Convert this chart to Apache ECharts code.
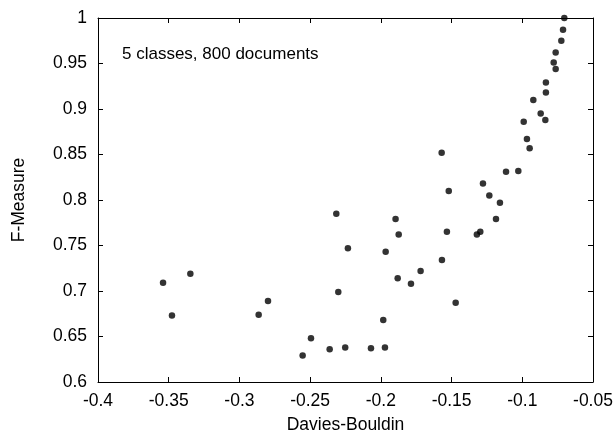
<!DOCTYPE html>
<html>
<head>
<meta charset="utf-8">
<script src="https://cdn.jsdelivr.net/npm/echarts@6/dist/echarts.min.js"></script>
<style>
  html, body { margin: 0; padding: 0; background: #fff; }
  #chart { width: 613px; height: 435px; }
</style>
</head>
<body>
<div id="chart"></div>
<script>
// Davies-Bouldin index vs. F-Measure for each clustering run
const daviesBouldin = [
  -0.0703, -0.0712, -0.0724, -0.0764, -0.0778, -0.0764, -0.0833, -0.0833,
  -0.0922, -0.0870, -0.0837, -0.0990, -0.0967, -0.0948, -0.1570, -0.1115,
  -0.1028, -0.1520, -0.1278, -0.1233, -0.1158, -0.1186, -0.1297, -0.1321,
  -0.1533, -0.1568, -0.1471, -0.1719, -0.1787, -0.1881, -0.1874, -0.1896,
  -0.1966, -0.1983, -0.1971, -0.2070, -0.2252, -0.2362, -0.2494, -0.2553,
  -0.2315, -0.2233, -0.2301, -0.3540, -0.3477, -0.3347, -0.2864, -0.2798
];
const fMeasure = [
  1.000, 0.987, 0.975, 0.962, 0.951, 0.944, 0.929, 0.918,
  0.910, 0.895, 0.888, 0.886, 0.867, 0.857, 0.852, 0.831,
  0.832, 0.810, 0.818, 0.805, 0.797, 0.779, 0.765, 0.762,
  0.765, 0.734, 0.687, 0.722, 0.708, 0.714, 0.762, 0.779,
  0.743, 0.668, 0.638, 0.637, 0.638, 0.636, 0.648, 0.629,
  0.785, 0.747, 0.699, 0.709, 0.673, 0.719, 0.674, 0.689
];
const xRange = { min: -0.4, max: -0.05, step: 0.05 };
const yRange = { min: 0.6, max: 1.0, step: 0.05 };
const annotation = '5 classes, 800 documents';

const points = daviesBouldin.map((x, i) => [x, fMeasure[i]]);
const font = 'Liberation Sans, Arial, Helvetica, sans-serif';
const fs = 17.5;

const lineStyle = { color: '#000', width: 1 };
const baseAxis = {
  type: 'value',
  axisLine: { show: true, onZero: false, lineStyle },
  axisTick: { show: true, inside: true, length: 5, lineStyle },
  splitLine: { show: false },
  axisLabel: { color: '#000', fontFamily: font, fontSize: fs }
};
const mirror = (r) => Object.assign({}, baseAxis, {
  min: r.min, max: r.max, interval: r.step,
  axisLabel: { show: false }
});
const fmt = (v) => String(Math.round(v * 100) / 100);

const chart = echarts.init(document.getElementById('chart'));
chart.setOption({
  animation: false,
  backgroundColor: '#fff',
  grid: { left: 98, right: 20, top: 18, bottom: 53, containLabel: false, outerBoundsMode: 'none' },
  xAxis: [
    Object.assign({}, baseAxis, {
      min: xRange.min, max: xRange.max, interval: xRange.step,
      position: 'bottom',
      name: 'Davies-Bouldin', nameLocation: 'middle', nameGap: 34,
      nameTextStyle: { color: '#000', fontFamily: font, fontSize: fs },
      axisLabel: { color: '#000', fontFamily: font, fontSize: fs, margin: 10, formatter: fmt }
    }),
    Object.assign(mirror(xRange), { position: 'top' })
  ],
  yAxis: [
    Object.assign({}, baseAxis, {
      min: yRange.min, max: yRange.max, interval: yRange.step,
      position: 'left',
      name: 'F-Measure', nameLocation: 'middle', nameGap: 70,
      nameTextStyle: { color: '#000', fontFamily: font, fontSize: fs },
      axisLabel: { color: '#000', fontFamily: font, fontSize: fs, margin: 11, formatter: fmt }
    }),
    Object.assign(mirror(yRange), { position: 'right' })
  ],
  graphic: [{
    type: 'text', left: 122, top: 46,
    style: { text: annotation, fill: '#000', font: '17px ' + font }
  }],
  series: [{
    type: 'scatter',
    xAxisIndex: 0, yAxisIndex: 0,
    data: points,
    symbol: 'circle',
    symbolSize: 6.5,
    itemStyle: { color: '#000' }
  }]
});
</script>
</body>
</html>
